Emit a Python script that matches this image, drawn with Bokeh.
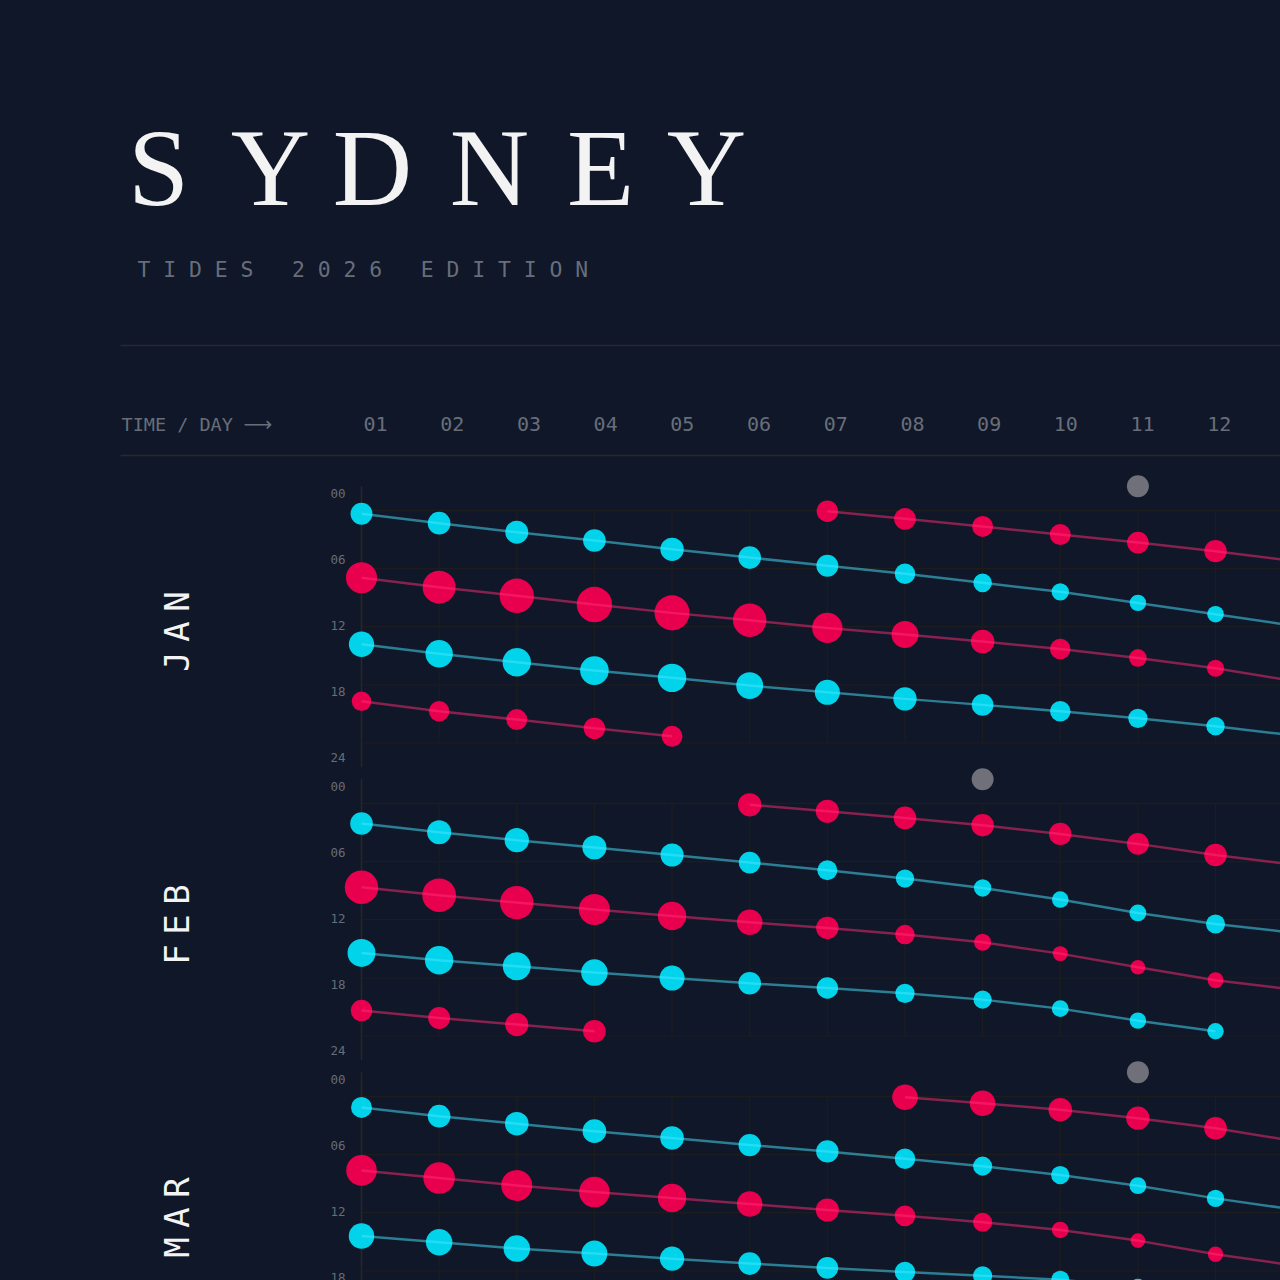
import math
import numpy as np
from bokeh.plotting import figure
from bokeh.models import Range1d
from bokeh.core.properties import value
from bokeh.embed import file_html
from bokeh.resources import INLINE

try:
    from bokeh.models import GlobalInlineStyleSheet
except Exception:  # pragma: no cover
    GlobalInlineStyleSheet = None

N = None

# ---------------------------------------------------------------- data
DAYS = list(range(1, 14))          # day 13 only carries the lines off the right edge
DAY_LABELS = ["01", "02", "03", "04", "05", "06", "07", "08", "09", "10", "11", "12"]
HOUR_TICKS = [0, 6, 12, 18, 24]
HOUR_LABELS = ["00", "06", "12", "18", "24"]
MONTHS = ["JAN", "FEB", "MAR"]
MOON_DAYS = [11, 9, 11]

# tide times (hours) and heights (m) per day
JAN_LOW_AM_T = [0.34, 1.31, 2.24, 3.10, 4.01, 4.86, 5.71, 6.54, 7.47, 8.40, 9.54, 10.71, 11.90]
JAN_LOW_AM_M = [0.37, 0.34, 0.33, 0.34, 0.31, 0.34, 0.37, 0.43, 0.51, 0.56, 0.60, 0.59, 0.62]
JAN_HIGH_AM_T = [6.95, 7.92, 8.81, 9.71, 10.57, 11.33, 12.12, 12.81, 13.53, 14.29, 15.22, 16.29, 17.60]
JAN_HIGH_AM_M = [1.91, 1.99, 2.05, 2.09, 2.08, 2.01, 1.88, 1.74, 1.60, 1.47, 1.35, 1.33, 1.30]
JAN_LOW_PM_T = [13.81, 14.80, 15.67, 16.53, 17.28, 18.08, 18.77, 19.45, 20.07, 20.73, 21.46, 22.28, 23.22]
JAN_LOW_PM_M = [0.23, 0.14, 0.10, 0.09, 0.10, 0.16, 0.24, 0.31, 0.38, 0.43, 0.48, 0.52, 0.55]
JAN_HIGH_PM_T = [19.70, 20.73, 21.59, 22.49, 23.32, N, N, N, N, N, N, N, N]
JAN_HIGH_PM_M = [1.43, 1.47, 1.49, 1.51, 1.49, N, N, N, N, N, N, N, N]
JAN_HIGH_NIGHT_T = [N, N, N, N, N, N, 0.07, 0.86, 1.65, 2.48, 3.31, 4.20, 5.19]
JAN_HIGH_NIGHT_M = [N, N, N, N, N, N, 1.51, 1.52, 1.49, 1.49, 1.52, 1.55, 1.57]

FEB_LOW_AM_T = [2.07, 2.96, 3.79, 4.55, 5.32, 6.10, 6.89, 7.75, 8.72, 9.92, 11.30, 12.44, 13.34]
FEB_LOW_AM_M = [0.34, 0.28, 0.27, 0.28, 0.32, 0.38, 0.45, 0.52, 0.56, 0.59, 0.58, 0.49, 0.45]
FEB_HIGH_AM_T = [8.65, 9.47, 10.23, 10.95, 11.61, 12.26, 12.85, 13.53, 14.33, 15.50, 16.91, 18.25, 19.20]
FEB_HIGH_AM_M = [2.01, 2.02, 2.01, 1.91, 1.80, 1.68, 1.55, 1.43, 1.33, 1.24, 1.23, 1.28, 1.32]
FEB_LOW_PM_T = [15.43, 16.19, 16.81, 17.46, 18.02, 18.56, 19.05, 19.60, 20.25, 21.18, 22.42, 23.52, N]
FEB_LOW_PM_M = [0.12, 0.10, 0.12, 0.18, 0.24, 0.34, 0.39, 0.48, 0.52, 0.58, 0.60, 0.60, N]
FEB_HIGH_PM_T = [21.38, 22.15, 22.83, 23.52, N, N, N, N, N, N, N, N, N]
FEB_HIGH_PM_M = [1.51, 1.53, 1.58, 1.56, N, N, N, N, N, N, N, N, N]
FEB_HIGH_NIGHT_T = [N, N, N, N, N, 0.14, 0.80, 1.49, 2.24, 3.14, 4.17, 5.31, 6.30]
FEB_HIGH_NIGHT_M = [N, N, N, N, N, 1.59, 1.58, 1.56, 1.55, 1.55, 1.53, 1.56, 1.58]

MAR_LOW_AM_T = [1.13, 2.03, 2.81, 3.58, 4.28, 5.02, 5.67, 6.42, 7.19, 8.11, 9.21, 10.52, 11.66]
MAR_LOW_AM_M = [0.41, 0.34, 0.30, 0.30, 0.30, 0.35, 0.35, 0.43, 0.49, 0.52, 0.58, 0.56, 0.54]
MAR_HIGH_AM_T = [7.63, 8.42, 9.18, 9.87, 10.48, 11.10, 11.72, 12.32, 12.99, 13.78, 14.88, 16.29, 17.43]
MAR_HIGH_AM_M = [1.89, 1.93, 1.91, 1.89, 1.80, 1.68, 1.58, 1.48, 1.41, 1.31, 1.23, 1.26, 1.30]
MAR_LOW_PM_T = [14.40, 15.05, 15.70, 16.22, 16.75, 17.25, 17.70, 18.11, 18.51, 18.92, 19.69, 20.82, 21.86]
MAR_LOW_PM_M = [0.22, 0.18, 0.18, 0.20, 0.27, 0.34, 0.38, 0.43, 0.49, 0.53, 0.58, 0.58, 0.58]
MAR_HIGH_NIGHT_T = [N, N, N, N, N, N, N, 0.08, 0.69, 1.37, 2.24, 3.27, 4.58]
MAR_HIGH_NIGHT_M = [N, N, N, N, N, N, N, 1.68, 1.68, 1.60, 1.59, 1.56, 1.53]

MONTH_SERIES = [
    [("low", JAN_LOW_AM_T, JAN_LOW_AM_M), ("high", JAN_HIGH_AM_T, JAN_HIGH_AM_M),
     ("low", JAN_LOW_PM_T, JAN_LOW_PM_M), ("high", JAN_HIGH_PM_T, JAN_HIGH_PM_M),
     ("high", JAN_HIGH_NIGHT_T, JAN_HIGH_NIGHT_M)],
    [("low", FEB_LOW_AM_T, FEB_LOW_AM_M), ("high", FEB_HIGH_AM_T, FEB_HIGH_AM_M),
     ("low", FEB_LOW_PM_T, FEB_LOW_PM_M), ("high", FEB_HIGH_PM_T, FEB_HIGH_PM_M),
     ("high", FEB_HIGH_NIGHT_T, FEB_HIGH_NIGHT_M)],
    [("low", MAR_LOW_AM_T, MAR_LOW_AM_M), ("high", MAR_HIGH_AM_T, MAR_HIGH_AM_M),
     ("low", MAR_LOW_PM_T, MAR_LOW_PM_M),
     ("high", MAR_HIGH_NIGHT_T, MAR_HIGH_NIGHT_M)],
]

MSL = 0.95   # mean sea level (m); dot size grows with distance from it

# ---------------------------------------------------------------- layout / style
MARGIN = 0                            # Bokeh's page template has no body margin
W = H = 1280
DAY1_X, DAY_W = 361.0, 77.64          # page x of day 1 column, px per day
HOUR_H = 9.685                        # px per hour inside a month panel
PANEL_TOP = [510.0, 803.0, 1096.0]    # page y of the 00h grid line per month
LAB_SHIFT, LAB_H = -17.0, 11.0        # hour-label scale
DAYLAB_X, DAYLAB_W = 363.0, 76.7      # day-label scale

BG = "#0f1729"
CYAN, PINK = "#00d3ea", "#e8004f"
CYAN_LINE, PINK_LINE = "#48e6ff", "#ff2c74"
MOON = "#6f7079"
GRID, AXIS = "#1d1d1e", "#2b2723"
WHITE, GRAY, TICK_GRAY, RULE = "#f3f3f3", "#686e79", "#676c77", "#2a2829"
MONO = "DejaVu Sans Mono"
NB = "\u00a0"


def dot_size(m):
    return 2.0 * (4.0 + 12.0 * abs(m - MSL))


def arr(v):
    return np.array([np.nan if a is None else a for a in v], dtype=float)


x_lo = 1 + (MARGIN - DAY1_X) / DAY_W
x_hi = 1 + (MARGIN + W - DAY1_X) / DAY_W

extra_x = {
    "page": Range1d(MARGIN, MARGIN + W),
    "daylab": Range1d(1 + (MARGIN - DAYLAB_X) / DAYLAB_W, 1 + (MARGIN + W - DAYLAB_X) / DAYLAB_W),
}
extra_y = {}
for i, top in enumerate(PANEL_TOP):
    extra_y[f"m{i}"] = Range1d((MARGIN + H - top) / HOUR_H, (MARGIN - top) / HOUR_H)
    lt = top + LAB_SHIFT
    extra_y[f"lab{i}"] = Range1d((MARGIN + H - lt) / LAB_H, (MARGIN - lt) / LAB_H)

kw = {}
if GlobalInlineStyleSheet is not None:
    kw["stylesheets"] = [GlobalInlineStyleSheet(css=f"html,body{{background:{BG};}}")]

p = figure(width=W, height=H, output_backend="svg", toolbar_location=None,
           x_range=Range1d(x_lo, x_hi), y_range=Range1d(MARGIN + H, MARGIN),
           x_axis_type=None, y_axis_type=None, min_border=0, **kw)
p.extra_x_ranges = extra_x
p.extra_y_ranges = extra_y
p.background_fill_color = BG
p.border_fill_color = BG
p.outline_line_color = None

# ---------------------------------------------------------------- header
TITLE_X = [158, 270, 372, 489, 600, 706]
p.text(x=TITLE_X, y=[167.5] * 6, text=list("SYDNEY"), x_range_name="page",
       text_font=value("Liberation Serif"), text_font_size=value("110px"),
       text_color=WHITE, text_align="center", text_baseline="middle")
subtitle = NB.join("TIDES") + NB * 3 + NB.join("2026") + NB * 3 + NB.join("EDITION")
p.text(x=[137], y=[268.5], text=[subtitle], x_range_name="page",
       text_font=value(MONO), text_font_size=value("21.4px"),
       text_color=GRAY, text_align="left", text_baseline="middle")
p.segment(x0=[120, 120], y0=[345, 455], x1=[MARGIN + W, MARGIN + W], y1=[345, 455],
          x_range_name="page", line_color=RULE, line_width=1.3)
p.text(x=[121], y=[424], text=["TIME" + NB + "/" + NB + "DAY"], x_range_name="page",
       text_font=value(MONO), text_font_size=value("18.5px"),
       text_color=GRAY, text_align="left", text_baseline="middle")
p.text(x=[243], y=[423], text=["\u27f6"], x_range_name="page",
       text_font=value("DejaVu Sans"), text_font_size=value("20px"),
       text_color=GRAY, text_align="left", text_baseline="middle")
p.text(x=list(range(1, 13)), y=[423] * 12, text=DAY_LABELS, x_range_name="daylab",
       text_font=value(MONO), text_font_size=value("20px"),
       text_color=GRAY, text_align="left", text_baseline="middle")

# ---------------------------------------------------------------- month panels
grid_days = list(range(2, 32))
label_x = 1 + (345 - DAY1_X) / DAY_W
month_x = 1 + (176 - DAY1_X) / DAY_W
for i, name in enumerate(MONTHS):
    rn = f"m{i}"
    p.segment(x0=[1] * 5, y0=HOUR_TICKS, x1=[31] * 5, y1=HOUR_TICKS, y_range_name=rn,
              line_color=GRID, line_width=1.3)
    p.segment(x0=grid_days, y0=[0] * len(grid_days), x1=grid_days, y1=[24] * len(grid_days),
              y_range_name=rn, line_color=GRID, line_width=1.3)
    p.segment(x0=[1], y0=[-2.5], x1=[1], y1=[26.5], y_range_name=rn,
              line_color=AXIS, line_width=1.5)
    # only the hour labels that fall on the page
    lt = PANEL_TOP[i] + LAB_SHIFT
    keep = [k for k, t in enumerate(HOUR_TICKS) if lt + t * LAB_H < MARGIN + H + 5]
    p.text(x=[label_x] * len(keep), y=[HOUR_TICKS[k] for k in keep],
           text=[HOUR_LABELS[k] for k in keep], y_range_name=f"lab{i}",
           text_font=value(MONO), text_font_size=value("12.5px"), text_color=TICK_GRAY,
           text_align="right", text_baseline="middle")
    centre = 12.5
    ys = [centre + (1 - k) * 30.0 / HOUR_H for k in range(len(name))]
    p.text(x=[month_x] * len(name), y=ys, text=list(name), y_range_name=rn, angle=math.pi / 2,
           text_font=value(MONO), text_font_size=value("34px"), text_color=WHITE,
           text_align="center", text_baseline="middle")

for i, series in enumerate(MONTH_SERIES):
    rn = f"m{i}"
    for kind, t, m in series:
        tt, mm = arr(t), arr(m)
        sizes = [dot_size(v) if not np.isnan(v) else 0 for v in mm]
        p.scatter(x=DAYS, y=tt, size=sizes, y_range_name=rn,
                  fill_color=CYAN if kind == "low" else PINK, line_color=None)
for i, series in enumerate(MONTH_SERIES):
    rn = f"m{i}"
    for kind, t, m in series:
        p.line(x=DAYS, y=arr(t), y_range_name=rn,
               line_color=CYAN_LINE if kind == "low" else PINK_LINE,
               line_alpha=0.5, line_width=2.5)
    p.scatter(x=[MOON_DAYS[i]], y=[-2.5], size=22, y_range_name=rn,
              fill_color=MOON, line_color=None)

open("out.html", "w").write(file_html(p, INLINE))
